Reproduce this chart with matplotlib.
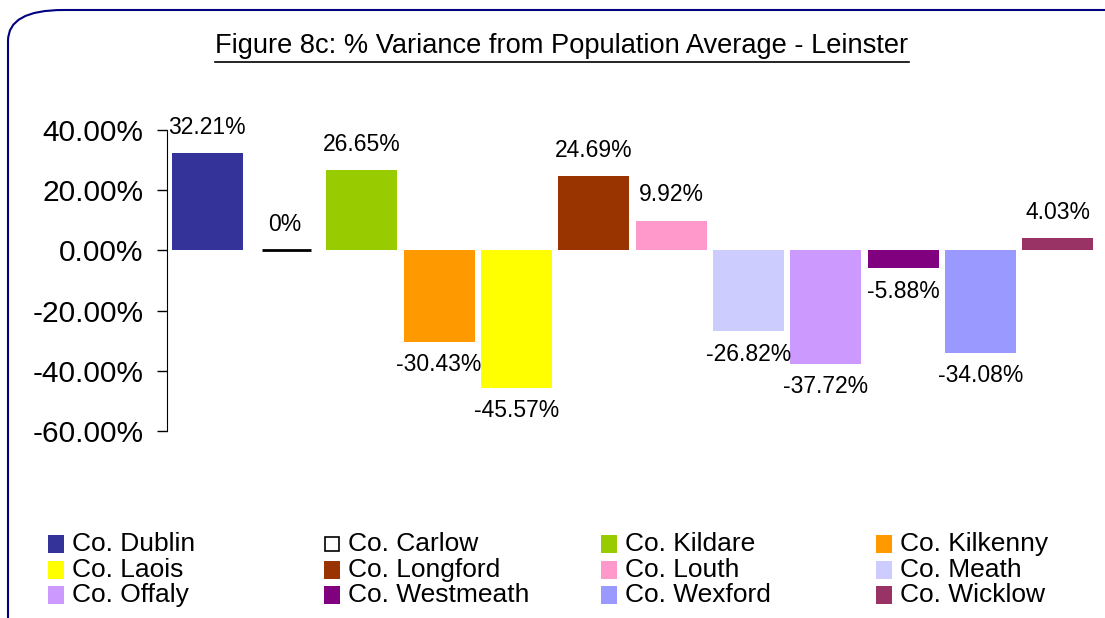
import matplotlib
matplotlib.use('Agg')
import matplotlib.pyplot as plt
from matplotlib.patches import FancyBboxPatch, Rectangle
from matplotlib.lines import Line2D
from matplotlib.ticker import FuncFormatter

plt.rcParams['font.family'] = ['Liberation Sans', 'DejaVu Sans']

counties = ['Co. Dublin', 'Co. Carlow', 'Co. Kildare', 'Co. Kilkenny',
            'Co. Laois', 'Co. Longford', 'Co. Louth', 'Co. Meath',
            'Co. Offaly', 'Co. Westmeath', 'Co. Wexford', 'Co. Wicklow']
variance = [32.21, 0.0, 26.65, -30.43, -45.57, 24.69, 9.92, -26.82,
            -37.72, -5.88, -34.08, 4.03]
labels = ['32.21%', '0%', '26.65%', '-30.43%', '-45.57%', '24.69%', '9.92%',
          '-26.82%', '-37.72%', '-5.88%', '-34.08%', '4.03%']
colors = ['#333399', '#FFFFFF', '#99CC00', '#FF9900', '#FFFF00', '#993300',
          '#FF99CC', '#CCCCFF', '#CC99FF', '#800080', '#9999FF', '#993366']

W, H = 1105, 618
fig = plt.figure(figsize=(W / 100, H / 100), dpi=100)

# rounded frame, cut off at right and bottom like the original
frame = FancyBboxPatch((8 / W, -0.5), 1.2, 1 - 10 / H + 0.5,
                       boxstyle='round,pad=0,rounding_size=0.05',
                       transform=fig.transFigure, fill=False,
                       edgecolor='#000080', linewidth=1.5)
fig.patches.append(frame)

ax = fig.add_axes([167 / W, 1 - 431 / H, (1098 - 167) / W, (431 - 130) / H])

for i, v in enumerate(variance):
    if v == 0:
        ax.bar(i + 0.03, 0.0, width=0.63, color='white', edgecolor='black',
               linewidth=2)
    else:
        ax.bar(i, v, width=0.92, color=colors[i], linewidth=0)

for i, v in enumerate(variance):
    off = 26 if v >= 0 else -23
    ax.annotate(labels[i], (i, v), xytext=(0, off), textcoords='offset pixels',
                ha='center', va='center', fontsize=16.5)

ax.set_ylim(-60, 40)
ax.set_xlim(-0.52, 11.52)
ax.set_yticks([40, 20, 0, -20, -40, -60])
ax.yaxis.set_major_formatter(FuncFormatter(lambda y, p: f'{y:.2f}%'))
ax.tick_params(axis='y', direction='out', length=7, width=1, pad=9.7, labelsize=21.5)
ax.tick_params(axis='x', bottom=False, labelbottom=False)
for s in ['top', 'right', 'bottom']:
    ax.spines[s].set_visible(False)
ax.patch.set_visible(False)

# title with underline
t = fig.text(562 / W, 1 - 46 / H, 'Figure 8c: % Variance from Population Average - Leinster',
             ha='center', va='center', fontsize=19.6)
fig.canvas.draw()
bb = t.get_window_extent().transformed(fig.transFigure.inverted())
fig.add_artist(Line2D([bb.x0, bb.x1], [1 - 62 / H] * 2, transform=fig.transFigure,
                      color='black', linewidth=1.2))

# legend, filled row by row across 4 columns
col_x = [48, 324, 601, 876]
row_y = [544, 570, 595]
for i, name in enumerate(counties):
    r, c = divmod(i, 4)
    mx, my = col_x[c], row_y[r]
    if variance[i] == 0:
        box = Rectangle(((mx + 1) / W, (H - my - 7) / H), 14 / W, 14 / H,
                        transform=fig.transFigure, facecolor='white',
                        edgecolor='black', linewidth=1.2)
    else:
        box = Rectangle((mx / W, (H - my - 9) / H), 16 / W, 18 / H,
                        transform=fig.transFigure, facecolor=colors[i],
                        edgecolor='none')
    fig.add_artist(box)
    fig.text((mx + 24) / W, 1 - my / H, name, ha='left', va='center', fontsize=19)

fig.savefig('out.png', dpi=100)
